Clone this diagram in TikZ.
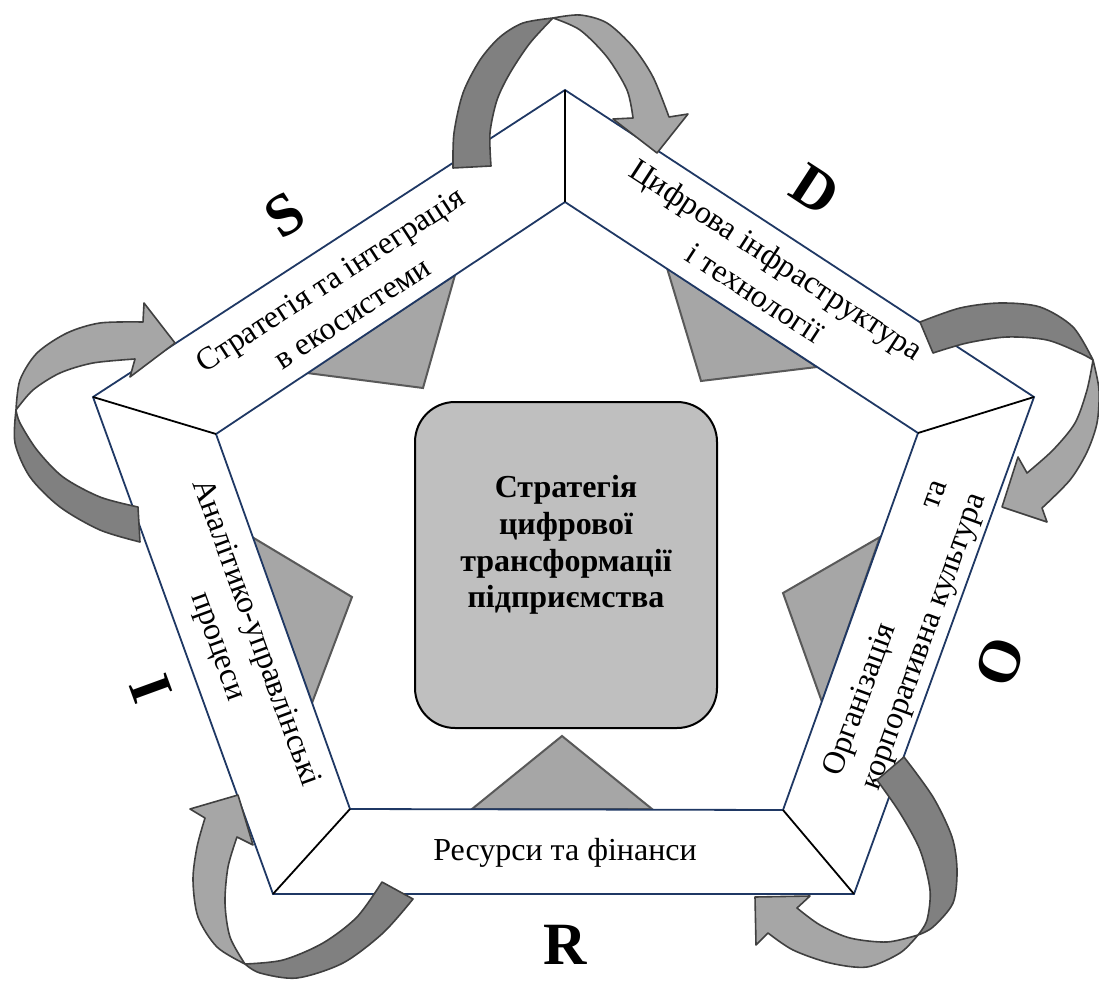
\documentclass[tikz,border=0pt]{standalone}
\usepackage{fontspec}
\setmainfont{Liberation Serif}
\definecolor{navy}{HTML}{1F3864}
\definecolor{ribline}{HTML}{404040}
\definecolor{ribdarkfill}{HTML}{808080}
\definecolor{riblightfill}{HTML}{A6A6A6}
\definecolor{triline}{HTML}{595959}
\definecolor{trifill}{HTML}{A6A6A6}
\definecolor{boxfill}{HTML}{BFBFBF}
\newlength{\orgwd}
\begin{document}
\begin{tikzpicture}[x=1pt,y=-1pt,
  rib/.style={draw=ribline, line width=1.6pt, line join=round},
  ribdark/.style={rib, fill=ribdarkfill},
  riblight/.style={rib, fill=riblightfill},
  pointer/.style={draw=triline, fill=trifill, line width=2pt, line join=miter},
  panel/.style={fill=white, draw=none},
  rim/.style={draw=navy, line width=1.8pt},
  divider/.style={draw=black, line width=1.8pt},
  seglabel/.style={font=\fontsize{32}{40}\selectfont, align=center, inner sep=0pt},
  letter/.style={font=\fontsize{60}{60}\selectfont\bfseries, inner sep=0pt},
]
\useasboundingbox (0,0) rectangle (1099,981);

% outer and inner pentagon corners
\coordinate (O1) at (565,90);
\coordinate (O2) at (1034,397);
\coordinate (O3) at (854,894);
\coordinate (O4) at (273,894);
\coordinate (O5) at (93,397);
\coordinate (I1) at (565,202);
\coordinate (I2) at (918,433);
\coordinate (I3) at (783,810);
\coordinate (I4) at (350,809);
\coordinate (I5) at (216,434);

% inward pointers (their bases hide under the panels)
\filldraw[pointer] (307,373) -- (423,388) -- (455,275) -- cycle;
\filldraw[pointer] (667,268) -- (701,381) -- (817,367) -- cycle;
\filldraw[pointer] (880,537) -- (783,593) -- (822,702) -- cycle;
\filldraw[pointer] (472,809) -- (562,736) -- (652,809) -- cycle;
\filldraw[pointer] (252,537) -- (352,597) -- (312,703) -- cycle;

% the five panels of the frame
\fill[panel] (O5) -- (O1) -- (I1) -- (I5) -- cycle;
\fill[panel] (O1) -- (O2) -- (I2) -- (I1) -- cycle;
\fill[panel] (O2) -- (O3) -- (I3) -- (I2) -- cycle;
\fill[panel] (O3) -- (O4) -- (I4) -- (I3) -- cycle;
\fill[panel] (O4) -- (O5) -- (I5) -- (I4) -- cycle;
\draw[rim] (O1) -- (O2) -- (O3) -- (O4) -- (O5) -- cycle;
\draw[rim] (I1) -- (I2) -- (I3) -- (I4) -- (I5) -- cycle;
\draw[divider] (O1) -- (I1);
\draw[divider] (O2) -- (I2);
\draw[divider] (O3) -- (I3);
\draw[divider] (O4) -- (I4);
\draw[divider] (O5) -- (I5);

% panel captions
\node[seglabel, rotate=33] (capS) at (341,296) {Стратегія та інтеграція\\в екосистеми};
\node[seglabel, rotate=-33] (capD) at (766,276) {Цифрова інфраструктура\\і технології};
\node[seglabel, rotate=70] (capO) at (906,635)
  {\settowidth{\orgwd}{корпоративна культура}\makebox[\orgwd][s]{Організація та}\\корпоративна культура};
\node[seglabel] (capR) at (565,853) {Ресурси та фінанси};
\node[seglabel, rotate=-70] (capI) at (236,640) {Аналітико-управлінські\\процеси};

% central block
\node[draw=black, line width=2pt, fill=boxfill, rounded corners=40pt,
      minimum width=302pt, minimum height=326pt, inner sep=0pt] (core) at (566,565) {};
\node[font=\fontsize{32}{36.7}\selectfont\bfseries, align=center, inner sep=0pt] (coretext) at (566,545)
  {Стратегія\\цифрової\\трансформації\\підприємства};

% corner letters
\node[letter, rotate=33] (lS) at (285,215) {S};
\node[letter, rotate=-33] (lD) at (815,190) {D};
\node[letter, rotate=70] (lO) at (1000,662) {O};
\node[letter, rotate=-70] (lI) at (151,689) {I};
\node[letter] (lR) at (565,945) {R};

% twisted curved arrows: tail half dark, head half light
% top
\filldraw[ribdark] plot[smooth] coordinates {(453,168) (454,133) (463,93) (480,60) (500,37) (523,23) (553,18)}
  -- plot[smooth] coordinates {(553,18) (530,43) (510,73) (497,100) (490,133) (491,166)} -- cycle;
\filldraw[riblight] plot[smooth] coordinates {(553,18) (580,15) (607,23) (633,47) (653,77) (669,117)}
  -- (688,114) -- (657,153) -- (613,119) -- (633,118)
  -- plot[smooth] coordinates {(633,118) (627,90) (607,57) (580,30) (553,18)} -- cycle;
% right
\filldraw[ribdark] plot[smooth] coordinates {(920,322) (960,308) (1000,303) (1040,307) (1073,327) (1093,360)}
  -- plot[smooth] coordinates {(1093,360) (1080,353) (1047,340) (1007,337) (967,343) (933,353)} -- cycle;
\filldraw[riblight] plot[smooth] coordinates {(1093,360) (1099,390) (1097,423) (1087,452) (1070,480) (1042,508)}
  -- (1047,522) -- (1002,507) -- (1018,457) -- (1027,473)
  -- plot[smooth] coordinates {(1027,473) (1053,450) (1075,423) (1087,390) (1093,360)} -- cycle;
% lower right
\filldraw[ribdark] plot[smooth] coordinates {(904,757) (933,797) (952,837) (957,870) (953,903) (933,927) (918,935)}
  -- plot[smooth] coordinates {(918,935) (927,920) (930,890) (920,850) (900,813) (877,780)} -- cycle;
\filldraw[riblight] plot[smooth] coordinates {(918,935) (900,953) (867,967) (830,963) (793,950) (768,933)}
  -- (756,945) -- (755,897) -- (810,896) -- (797,908)
  -- plot[smooth] coordinates {(797,908) (820,925) (850,938) (887,942) (918,935)} -- cycle;
% lower left
\filldraw[ribdark] plot[smooth] coordinates {(413,899) (383,933) (343,963) (297,978) (260,973) (245,964)}
  -- plot[smooth] coordinates {(245,964) (283,960) (323,943) (357,917) (382,882)} -- cycle;
\filldraw[riblight] plot[smooth] coordinates {(245,964) (217,947) (198,917) (193,880) (197,847) (205,818)}
  -- (190,809) -- (238,795) -- (253,845) -- (237,837)
  -- plot[smooth] coordinates {(237,837) (228,867) (225,903) (230,937) (245,964)} -- cycle;
% left
\filldraw[ribdark] plot[smooth] coordinates {(140,542) (100,530) (60,507) (30,477) (15,443) (16,410)}
  -- plot[smooth] coordinates {(16,410) (20,423) (37,450) (63,477) (100,497) (138,507)} -- cycle;
\filldraw[riblight] plot[smooth] coordinates {(16,410) (20,380) (37,353) (67,333) (100,323) (143,322)}
  -- (144,303) -- (175,343) -- (130,377) -- (135,359)
  -- plot[smooth] coordinates {(135,359) (93,363) (60,373) (33,390) (16,410)} -- cycle;
\end{tikzpicture}
\end{document}
